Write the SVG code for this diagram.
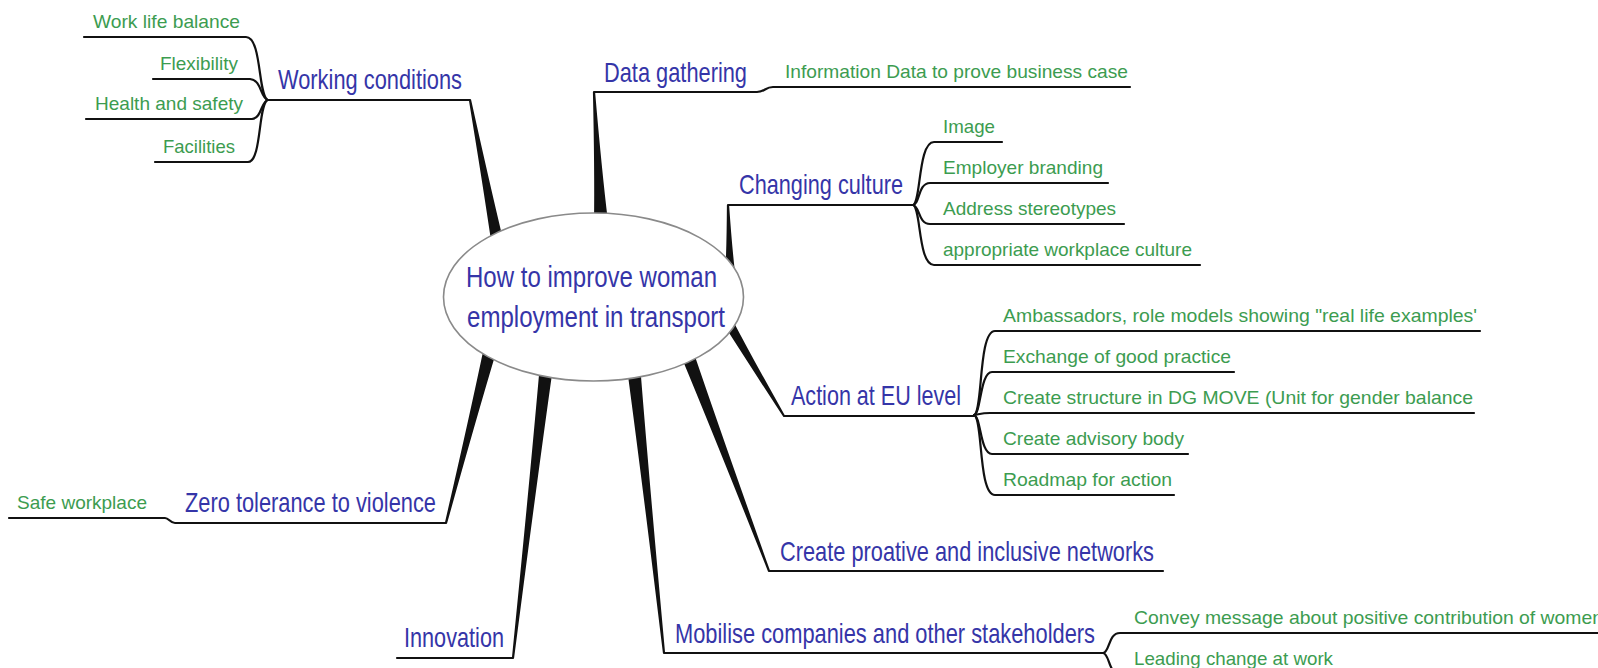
<svg xmlns="http://www.w3.org/2000/svg" width="1598" height="668" viewBox="0 0 1598 668">
<style>
.b{font-family:"Liberation Sans",Arial,sans-serif;font-size:28px;fill:#3535a8}
.g{font-family:"Liberation Sans",Arial,sans-serif;font-size:19px;fill:#3c9c50}
.c{font-family:"Liberation Sans",Arial,sans-serif;font-size:30px;fill:#3535a8}
.ln{fill:none;stroke:#111;stroke-width:2.2;stroke-linecap:round;stroke-linejoin:round}
.wd{fill:#111}
</style>
<rect width="1598" height="668" fill="#fff"/>
<g id="connectors">
<path class="wd" d="M471.1,99.8 Q489.6,183.3 502.9,238.9 L491.1,241.1 Q482.8,184.7 468.9,100.2 Z"/>
<path class="wd" d="M595.1,91.9 Q601.7,169.8 608,221.6 L594,222.4 Q594.7,170.2 592.9,92.1 Z"/>
<path class="wd" d="M729.1,205 Q731.7,242.7 734.5,267.9 L725.5,268.1 Q726.7,242.9 726.9,205 Z"/>
<path class="wd" d="M783.1,416.6 Q747.8,362.4 723.7,324.6 L732.3,319.4 Q753,359.2 784.9,415.4 Z"/>
<path class="wd" d="M768,571.4 Q717.1,443.2 681.9,358.3 L694.1,353.7 Q723.7,440.8 770,570.6 Z"/>
<path class="wd" d="M662.9,653.1 Q642.5,484.2 627.5,371.7 L640.5,370.3 Q649.5,483.4 665.1,652.9 Z"/>
<path class="wd" d="M511.9,657.9 Q529.3,484.8 539.5,369.3 L552.5,370.7 Q536.3,485.6 514.1,658.1 Z"/>
<path class="wd" d="M444.9,522.7 Q469,418.3 483.7,348.4 L496.3,351.6 Q475.8,420.1 447.1,523.3 Z"/>
<path class="ln" d="M267,100 H470"/>
<path class="ln" d="M84,37 H246 C262,37 258,98 268,100"/>
<path class="ln" d="M153,79 H250 C262,80 260,98 268,100"/>
<path class="ln" d="M86,119 H252 C262,118 261,101 268,100"/>
<path class="ln" d="M155,162 H248 C262,162 258,102 268,100"/>
<path class="ln" d="M594,92 H757 C765,92 765,87 773,87 H1130"/>
<path class="ln" d="M728,205 H913"/>
<path class="ln" d="M913,205 C921,203 918,142 934,142 H1002"/>
<path class="ln" d="M913,205 C920,204 918,183 930,183 H1108"/>
<path class="ln" d="M913,205 C920,206 918,224 930,224 H1124"/>
<path class="ln" d="M913,205 C921,207 918,265 934,265 H1200"/>
<path class="ln" d="M784,416 H974"/>
<path class="ln" d="M974,415 C983,413 978,331 995,331 H1480"/>
<path class="ln" d="M974,415 C981,414 980,372 992,372 H1234"/>
<path class="ln" d="M974,415 C980,414 982,413 990,413 H1474"/>
<path class="ln" d="M974,415 C981,416 980,454 992,454 H1188"/>
<path class="ln" d="M974,415 C983,417 978,495 995,495 H1174"/>
<path class="ln" d="M769,571 H1163"/>
<path class="ln" d="M664,653 H1103"/>
<path class="ln" d="M1103,653 C1110,652 1108,633 1120,633 H1600"/>
<path class="ln" d="M1103,653 C1110,654 1108,674 1120,674 H1340"/>
<path class="ln" d="M397,658 H513"/>
<path class="ln" d="M9,518 H165 C169,518 170,523 175,523 H446"/>
</g>
<g id="center">
<ellipse cx="593.5" cy="297" rx="150" ry="84" fill="#fff" stroke="#8a8a8a" stroke-width="1.6"/>
<text class="c" x="466" y="287" textLength="251" lengthAdjust="spacingAndGlyphs">How to improve woman</text>
<text class="c" x="467" y="327" textLength="258" lengthAdjust="spacingAndGlyphs">employment in transport</text>
</g>
<g id="working-conditions"><text class="b" x="278" y="89" textLength="184" lengthAdjust="spacingAndGlyphs">Working conditions</text></g>
<g id="work-life-balance"><text class="g" x="93" y="28" textLength="147" lengthAdjust="spacingAndGlyphs">Work life balance</text></g>
<g id="flexibility"><text class="g" x="160" y="70" textLength="78" lengthAdjust="spacingAndGlyphs">Flexibility</text></g>
<g id="health-safety"><text class="g" x="95" y="110" textLength="148" lengthAdjust="spacingAndGlyphs">Health and safety</text></g>
<g id="facilities"><text class="g" x="163" y="153" textLength="72" lengthAdjust="spacingAndGlyphs">Facilities</text></g>
<g id="data-gathering"><text class="b" x="604" y="82" textLength="143" lengthAdjust="spacingAndGlyphs">Data gathering</text></g>
<g id="information-data"><text class="g" x="785" y="78" textLength="343" lengthAdjust="spacingAndGlyphs">Information Data to prove business case</text></g>
<g id="changing-culture"><text class="b" x="739" y="194" textLength="164" lengthAdjust="spacingAndGlyphs">Changing culture</text></g>
<g id="image"><text class="g" x="943" y="133" textLength="52" lengthAdjust="spacingAndGlyphs">Image</text></g>
<g id="employer-branding"><text class="g" x="943" y="174" textLength="160" lengthAdjust="spacingAndGlyphs">Employer branding</text></g>
<g id="address-stereotypes"><text class="g" x="943" y="215" textLength="173" lengthAdjust="spacingAndGlyphs">Address stereotypes</text></g>
<g id="workplace-culture"><text class="g" x="943" y="256" textLength="249" lengthAdjust="spacingAndGlyphs">appropriate workplace culture</text></g>
<g id="action-eu"><text class="b" x="791" y="405" textLength="170" lengthAdjust="spacingAndGlyphs">Action at EU level</text></g>
<g id="ambassadors"><text class="g" x="1003" y="322" textLength="474" lengthAdjust="spacingAndGlyphs">Ambassadors, role models showing "real life examples'</text></g>
<g id="exchange"><text class="g" x="1003" y="363" textLength="228" lengthAdjust="spacingAndGlyphs">Exchange of good practice</text></g>
<g id="create-structure"><text class="g" x="1003" y="404" textLength="470" lengthAdjust="spacingAndGlyphs">Create structure in DG MOVE (Unit for gender balance</text></g>
<g id="advisory-body"><text class="g" x="1003" y="445" textLength="181" lengthAdjust="spacingAndGlyphs">Create advisory body</text></g>
<g id="roadmap"><text class="g" x="1003" y="486" textLength="169" lengthAdjust="spacingAndGlyphs">Roadmap for action</text></g>
<g id="zero-tolerance"><text class="b" x="185" y="512" textLength="251" lengthAdjust="spacingAndGlyphs">Zero tolerance to violence</text></g>
<g id="safe-workplace"><text class="g" x="17" y="509" textLength="130" lengthAdjust="spacingAndGlyphs">Safe workplace</text></g>
<g id="create-networks"><text class="b" x="780" y="561" textLength="374" lengthAdjust="spacingAndGlyphs">Create proative and inclusive networks</text></g>
<g id="innovation"><text class="b" x="404" y="647" textLength="100" lengthAdjust="spacingAndGlyphs">Innovation</text></g>
<g id="mobilise"><text class="b" x="675" y="643" textLength="420" lengthAdjust="spacingAndGlyphs">Mobilise companies and other stakeholders</text></g>
<g id="convey-message"><text class="g" x="1134" y="624" textLength="469" lengthAdjust="spacingAndGlyphs">Convey message about positive contribution of women</text></g>
<g id="leading-change"><text class="g" x="1134" y="665" textLength="199" lengthAdjust="spacingAndGlyphs">Leading change at work</text></g>
</svg>
